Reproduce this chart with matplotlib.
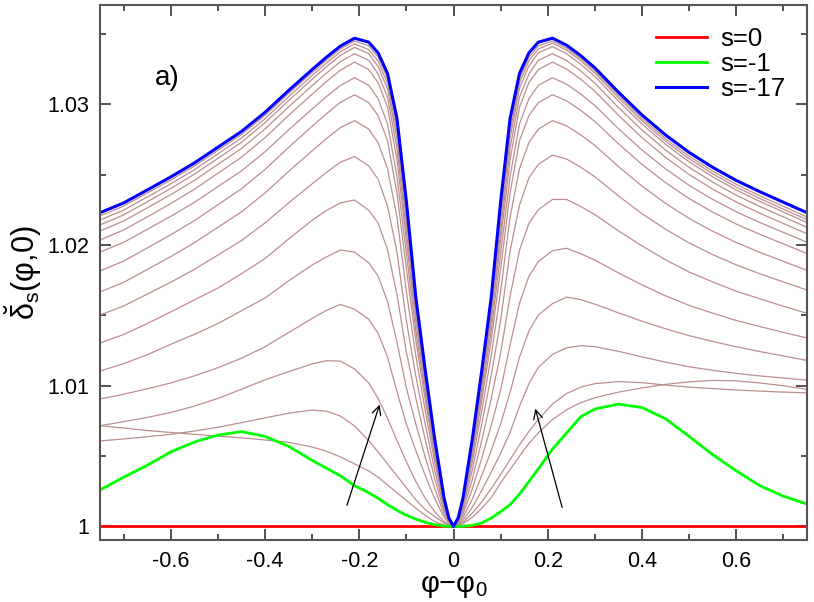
import matplotlib
matplotlib.use("Agg")
import matplotlib.pyplot as plt
import numpy as np

plt.rcParams['font.family'] = ['Liberation Sans', 'DejaVu Sans']
plt.rcParams['mathtext.fontset'] = 'custom'
plt.rcParams['mathtext.rm'] = 'Liberation Sans'
plt.rcParams['mathtext.it'] = 'Liberation Sans:italic'
plt.rcParams['axes.unicode_minus'] = False

# phi - phi0 sample positions
phi_left = [-0.75, -0.7, -0.65, -0.6, -0.55, -0.5, -0.45, -0.4, -0.35, -0.3, -0.27, -0.24,
            -0.21, -0.18, -0.16, -0.14, -0.12, -0.1, -0.08, -0.06, -0.04, -0.02, -0.01, 0.0]
phi_right = [0.01, 0.02, 0.04, 0.06, 0.08, 0.1, 0.12, 0.14, 0.16, 0.18, 0.21,
             0.24, 0.27, 0.3, 0.35, 0.4, 0.45, 0.5, 0.55, 0.6, 0.65, 0.7, 0.75]

# (delta - 1) * 1000, left half then right half
s0 = [0.0] * 47
s1 = [2.6, 3.5, 4.35, 5.3, 6.0, 6.5, 6.74, 6.4, 5.7, 4.7, 4.15, 3.6,
      2.9, 2.4, 2.0, 1.55, 1.15, 0.8, 0.52, 0.3, 0.13, 0.03, 0.01, 0,
      0.005, 0.02, 0.08, 0.25, 0.6, 1.05, 1.55, 2.3, 3.2, 4.1, 5.5,
      6.65, 7.8, 8.35, 8.7, 8.45, 7.65, 6.4, 5.1, 3.95, 2.9, 2.15, 1.6]
s2 = [7.16, 7.0, 6.82, 6.68, 6.55, 6.42, 6.3, 6.15, 5.98, 5.65, 5.35, 4.95,
      4.45, 3.95, 3.5, 2.95, 2.4, 1.85, 1.3, 0.8, 0.35, 0.1, 0.03, 0,
      0.06, 0.2, 0.65, 1.3, 2.05, 3.1, 4.05, 5.0, 5.9, 6.65, 7.6,
      8.3, 8.8, 9.15, 9.55, 9.85, 10.1, 10.28, 10.38, 10.35, 10.2, 10.0, 9.75]
s3 = [6.08, 6.22, 6.38, 6.55, 6.78, 7.05, 7.38, 7.72, 8.05, 8.27, 8.2, 7.85,
      7.15, 6.1, 5.3, 4.45, 3.6, 2.75, 1.9, 1.2, 0.7, 0.25, 0.08, 0,
      0.1, 0.3, 0.95, 1.75, 2.7, 3.7, 4.75, 5.8, 6.75, 7.6, 8.7,
      9.45, 9.9, 10.15, 10.3, 10.22, 10.05, 9.9, 9.8, 9.7, 9.62, 9.55, 9.5]
s4 = [7.16, 7.45, 7.75, 8.1, 8.55, 9.1, 9.75, 10.42, 11.0, 11.55, 11.78, 11.75,
      11.2, 10.2, 9.1, 7.7, 6.1, 4.6, 3.2, 2.0, 1.05, 0.35, 0.12, 0,
      0.17, 0.45, 1.37, 2.57, 3.86, 5.2, 6.68, 8.55, 10.15, 11.31, 12.23,
      12.7, 12.85, 12.78, 12.45, 12.05, 11.68, 11.35, 11.1, 10.88, 10.7, 10.55, 10.4]
s5 = [9.06, 9.4, 9.78, 10.2, 10.7, 11.28, 11.96, 12.77, 13.78, 14.79, 15.35, 15.78,
      15.44, 14.73, 13.73, 12.04, 9.59, 7.28, 5.39, 3.63, 1.98, 0.65, 0.22, 0,
      0.23, 0.65, 1.96, 3.63, 5.4, 7.3, 9.54, 12.03, 13.89, 15.03, 15.84,
      16.3, 16.12, 15.8, 15.18, 14.59, 14.05, 13.56, 13.15, 12.77, 12.43, 12.12, 11.8]
s6 = [11.05, 11.57, 12.2, 12.95, 13.65, 14.42, 15.33, 16.24, 17.45, 18.58, 19.15, 19.65,
      19.5, 18.75, 17.79, 16.0, 13.1, 9.85, 7.29, 4.93, 2.7, 0.87, 0.3, 0,
      0.29, 0.88, 2.67, 4.86, 7.18, 9.71, 12.9, 15.86, 17.79, 18.83, 19.6,
      19.77, 19.38, 18.93, 18.02, 17.17, 16.39, 15.71, 15.16, 14.64, 14.21, 13.79, 13.4]
s7 = [13.04, 13.64, 14.42, 15.25, 16.1, 16.94, 17.96, 19.04, 20.43, 21.76, 22.45, 23.0,
      23.2, 22.48, 21.55, 19.69, 16.47, 12.4, 9.13, 6.17, 3.4, 1.1, 0.37, 0,
      0.36, 1.08, 3.37, 6.13, 9.08, 12.33, 16.38, 19.63, 21.55, 22.51, 23.24,
      23.24, 22.74, 22.16, 21.01, 19.94, 18.95, 18.08, 17.38, 16.72, 16.18, 15.65, 15.15]
s8 = [15.03, 15.67, 16.51, 17.36, 18.27, 19.29, 20.32, 21.57, 22.99, 24.35, 25.15, 25.89,
      26.29, 25.63, 24.68, 22.76, 19.51, 14.6, 10.69, 7.26, 4.01, 1.29, 0.42, 0,
      0.42, 1.3, 4.03, 7.29, 10.73, 14.65, 19.58, 22.84, 24.78, 25.73, 26.39,
      26.11, 25.53, 24.85, 23.49, 22.23, 21.12, 20.15, 19.32, 18.59, 17.96, 17.38, 16.8]
s9 = [16.67, 17.35, 18.26, 19.18, 20.16, 21.26, 22.36, 23.7, 25.23, 26.7, 27.55, 28.35,
      28.84, 28.24, 27.28, 25.43, 21.99, 16.7, 12.14, 8.24, 4.6, 1.47, 0.48, 0,
      0.48, 1.47, 4.6, 8.24, 12.14, 16.7, 21.99, 25.43, 27.28, 28.24, 28.84,
      28.47, 27.83, 27.08, 25.58, 24.19, 22.96, 21.89, 20.98, 20.18, 19.48, 18.84, 18.2]
s10 = [18.16, 18.86, 19.79, 20.73, 21.73, 22.86, 24.0, 25.37, 26.94, 28.44, 29.32, 30.14,
       30.68, 30.12, 29.2, 27.42, 23.7, 18.33, 13.23, 9.0, 5.0, 1.63, 0.52, 0,
       0.52, 1.63, 5.0, 9.0, 13.23, 18.33, 23.7, 27.42, 29.2, 30.12, 30.68,
       30.25, 29.57, 28.78, 27.2, 25.73, 24.43, 23.3, 22.34, 21.49, 20.76, 20.08, 19.4]
s11 = [19.5, 20.19, 21.11, 22.04, 23.03, 24.15, 25.27, 26.63, 28.18, 29.67, 30.54, 31.34,
       31.89, 31.36, 30.4, 28.61, 24.88, 19.4, 13.91, 9.44, 5.26, 1.69, 0.54, 0,
       0.54, 1.69, 5.26, 9.44, 13.91, 19.4, 24.88, 28.61, 30.4, 31.36, 31.89,
       31.43, 30.73, 29.91, 28.27, 26.75, 25.41, 24.24, 23.24, 22.36, 21.6, 20.9, 20.2]
s12 = [20.36, 21.07, 22.0, 22.95, 23.96, 25.1, 26.24, 27.63, 29.21, 30.72, 31.61, 32.43,
       33.0, 32.47, 31.55, 29.8, 26.07, 20.33, 14.55, 9.9, 5.54, 1.78, 0.56, 0,
       0.56, 1.78, 5.54, 9.9, 14.55, 20.33, 26.07, 29.8, 31.55, 32.47, 33.0,
       32.51, 31.78, 30.93, 29.22, 27.63, 26.23, 25.01, 23.97, 23.06, 22.26, 21.53, 20.8]
s13 = [21.0, 21.71, 22.64, 23.58, 24.59, 25.73, 26.86, 28.25, 29.82, 31.33, 32.21, 33.03,
       33.6, 33.13, 32.16, 30.51, 26.88, 21.0, 15.02, 10.21, 5.71, 1.81, 0.58, 0,
       0.58, 1.81, 5.71, 10.21, 15.02, 21.0, 26.88, 30.51, 32.16, 33.13, 33.6,
       33.11, 32.37, 31.5, 29.77, 28.17, 26.75, 25.52, 24.47, 23.54, 22.74, 22.0, 21.26]
s14 = [21.43, 22.14, 23.07, 24.02, 25.03, 26.16, 27.3, 28.69, 30.26, 31.78, 32.66, 33.48,
       34.05, 33.61, 32.69, 31.09, 27.55, 21.62, 15.42, 10.49, 5.86, 1.87, 0.6, 0,
       0.6, 1.88, 5.87, 10.5, 15.45, 21.65, 27.59, 31.13, 32.74, 33.66, 34.1,
       33.6, 32.85, 31.98, 30.23, 28.6, 27.16, 25.91, 24.85, 23.91, 23.1, 22.35, 21.6]
s15 = [21.78, 22.48, 23.41, 24.35, 25.35, 26.48, 27.6, 28.98, 30.54, 32.05, 32.92, 33.74,
       34.3, 33.89, 33.07, 31.49, 28.02, 22.09, 15.71, 10.7, 6.0, 1.92, 0.6, 0,
       0.6, 1.92, 6.01, 10.72, 15.73, 22.12, 28.06, 31.53, 33.11, 33.94, 34.35,
       33.85, 33.1, 32.22, 30.46, 28.83, 27.38, 26.13, 25.06, 24.12, 23.31, 22.55, 21.8]
s16 = [22.07, 22.77, 23.69, 24.62, 25.61, 26.73, 27.85, 29.22, 30.77, 32.26, 33.13, 33.94,
       34.5, 34.16, 33.36, 31.84, 28.5, 22.6, 16.0, 10.9, 6.11, 1.97, 0.61, 0,
       0.61, 1.97, 6.11, 10.9, 16.0, 22.6, 28.5, 31.84, 33.36, 34.16, 34.5,
       34.0, 33.25, 32.38, 30.63, 29.0, 27.56, 26.31, 25.25, 24.31, 23.5, 22.75, 22.0]
s17 = [22.3, 22.99, 23.91, 24.84, 25.83, 26.95, 28.07, 29.43, 30.98, 32.47, 33.34, 34.14,
       34.7, 34.42, 33.66, 32.2, 29.0, 23.1, 16.3, 11.1, 6.25, 2.01, 0.62, 0,
       0.62, 2.01, 6.25, 11.1, 16.3, 23.1, 29.0, 32.2, 33.66, 34.42, 34.7,
       34.2, 33.46, 32.59, 30.86, 29.24, 27.82, 26.58, 25.52, 24.59, 23.79, 23.04, 22.3]

brown_curves = [s2, s3, s4, s5, s6, s7, s8, s9, s10, s11, s12, s13, s14, s15, s16]

phi = np.array(phi_left + phi_right)

def to_delta(v):
    return 1.0 + np.array(v) * 1e-3

fig = plt.figure(figsize=(8.14, 6.02), dpi=100)
ax = fig.add_axes([0.1229, 0.103, 0.8685, 0.8887])

for c in brown_curves:
    ax.plot(phi, to_delta(c), color='#bc8f8f', lw=0.9)
ax.plot(phi, to_delta(s0), color='#ff0000', lw=2, label='s=0')
ax.plot(phi, to_delta(s1), color='#00ff00', lw=2, label='s=-1')
ax.plot(phi, to_delta(s17), color='#0000ff', lw=2.2, label='s=-17')

# arrows: direction of decreasing s
ax.annotate('', xy=(-0.155, 1.00885), xytext=(-0.228, 1.00131),
            arrowprops=dict(arrowstyle='->', color='black', lw=0.9, mutation_scale=16))
ax.annotate('', xy=(0.172, 1.00856), xytext=(0.232, 1.00117),
            arrowprops=dict(arrowstyle='->', color='black', lw=0.9, mutation_scale=16))

ax.text(-0.607, 1.0319, 'a)', fontsize=20, ha='center', va='center')

ax.set_xlim(-0.75, 0.75)
ax.set_ylim(0.99904, 1.03706)
ax.set_xticks([-0.6, -0.4, -0.2, 0, 0.2, 0.4, 0.6])
ax.set_xticklabels(['-0.6', '-0.4', '-0.2', '0', '0.2', '0.4', '0.6'])
ax.set_xticks([-0.7, -0.5, -0.3, -0.1, 0.1, 0.3, 0.5, 0.7], minor=True)
ax.set_yticks([1.0, 1.01, 1.02, 1.03])
ax.set_yticklabels(['1', '1.01', '1.02', '1.03'])
ax.set_yticks([1.005, 1.015, 1.025, 1.035], minor=True)
ax.tick_params(which='both', direction='in', top=True, right=True,
               labelsize=15.5, width=1.2, color='#333333', pad=8)
ax.tick_params(which='major', length=8)
ax.tick_params(which='minor', length=4)
for sp in ax.spines.values():
    sp.set_linewidth(1.5)
    sp.set_color('#555555')

ax.set_xlabel(r'φ$-$φ$_\mathrm{0}$', fontsize=21, labelpad=0)
ax.set_ylabel(r'$\breve{\mathrm{\delta}}_{\mathrm{s}}$(φ,0)', fontsize=22, labelpad=2)

ax.legend(loc='upper right', frameon=False, fontsize=18.5, handlelength=2.0,
          handletextpad=0.5, labelspacing=0.05, borderaxespad=0.45)

fig.savefig('out.png', dpi=100)
